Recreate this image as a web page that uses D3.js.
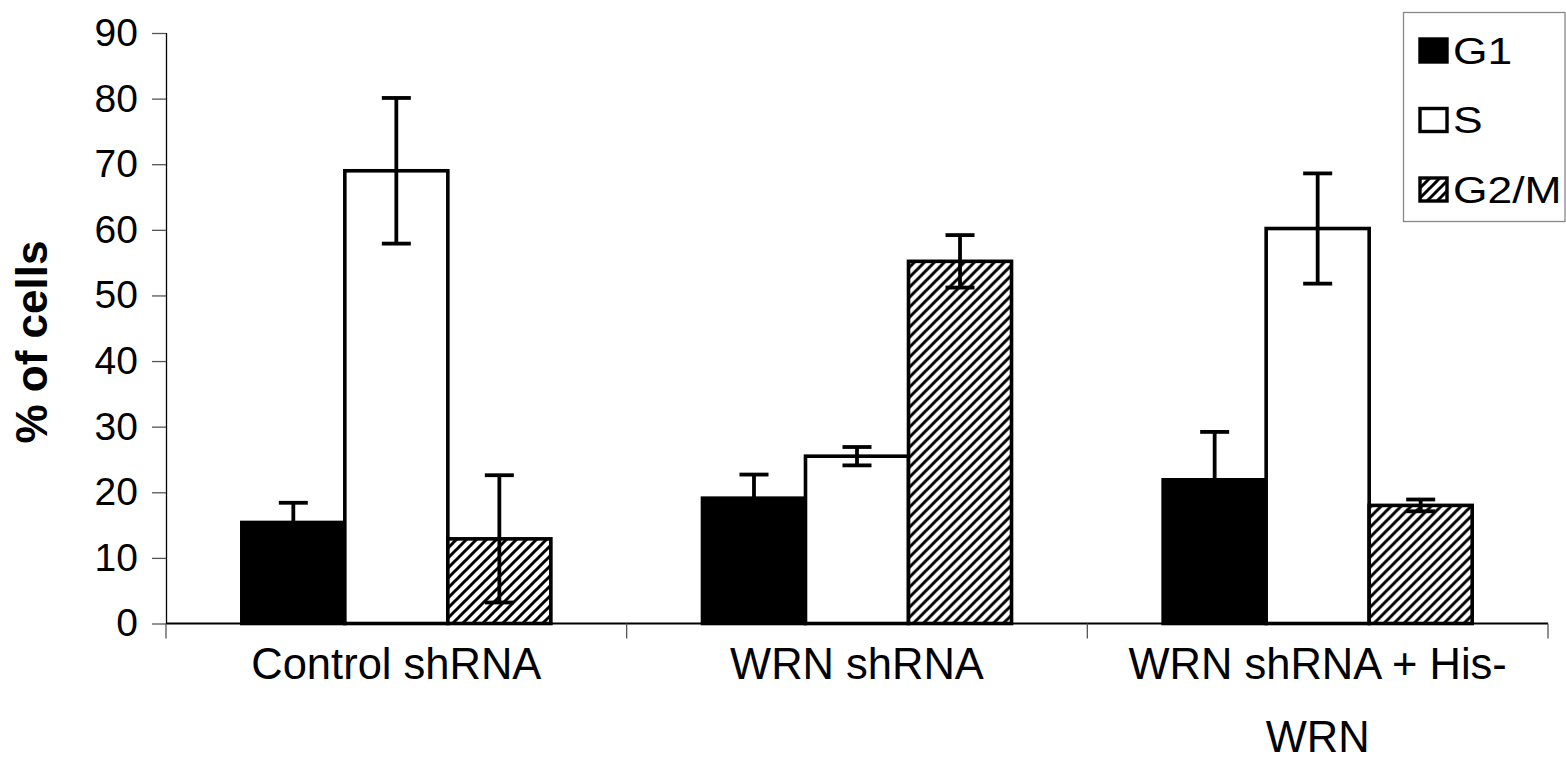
<!DOCTYPE html>
<html>
<head>
<meta charset="utf-8">
<script src="https://cdn.jsdelivr.net/npm/d3@7"></script>
<style>
  html, body { margin: 0; padding: 0; background: #fff; }
  svg { display: block; }
  text { font-family: "Liberation Sans", Arial, sans-serif; fill: #000; }
</style>
</head>
<body>
<svg id="chart" width="1566" height="761"></svg>
<script>
// Cell-cycle distribution (% of cells) per condition
const categories = ["Control shRNA", "WRN shRNA", "WRN shRNA + His-WRN"];
const categoryLines = [["Control shRNA"], ["WRN shRNA"], ["WRN shRNA + His-", "WRN"]];
const phases = ["G1", "S", "G2/M"];

const g1Values  = [15.4, 19.1, 21.9];
const sValues   = [69.0, 25.5, 60.2];
const g2mValues = [12.9, 55.2, 18.0];

const g1Errors  = [3.0, 3.6, 7.3];
const sErrors   = [11.1, 1.4, 8.4];
const g2mErrors = [9.7, 4.0, 0.9];

const yTicks = [0, 10, 20, 30, 40, 50, 60, 70, 80, 90];

// ---- layout
const plot = { left: 166, right: 1548, top: 33, bottom: 623.5 };

const rows = categories.map((c, i) => ({
  category: c,
  lines: categoryLines[i],
  bars: [
    { phase: "G1",   value: g1Values[i],  err: g1Errors[i] },
    { phase: "S",    value: sValues[i],   err: sErrors[i] },
    { phase: "G2/M", value: g2mValues[i], err: g2mErrors[i] }
  ]
}));

const svg = d3.select("#chart");

const defs = svg.append("defs");
const hatch = defs.append("pattern")
  .attr("id", "hatch")
  .attr("patternUnits", "userSpaceOnUse")
  .attr("width", 10).attr("height", 10);
hatch.append("rect").attr("width", 10).attr("height", 10).attr("fill", "#fff");
hatch.append("path")
  .attr("d", "M-3,3 L3,-3 M0,10 L10,0 M7,13 L13,7")
  .attr("stroke", "#000").attr("stroke-width", 3);

const fills = { "G1": "#000", "S": "#fff", "G2/M": "url(#hatch)" };

const y = d3.scaleLinear().domain([0, 90]).range([plot.bottom, plot.top]);
const x0 = d3.scaleBand().domain(categories).range([plot.left, plot.right]).padding(0);
const x1 = d3.scaleBand().domain(phases).range([0, x0.bandwidth()])
  .paddingInner(0).paddingOuter(0.736);

// ---- y axis
const yAxis = d3.axisLeft(y).tickValues(yTicks).tickSize(14).tickPadding(14);
const gy = svg.append("g").attr("transform", `translate(${plot.left},0)`).call(yAxis);
gy.select(".domain").attr("stroke", "#000").attr("stroke-width", 1.3).attr("d", `M0.5,${plot.top}V${plot.bottom}`);
gy.selectAll(".tick line").attr("stroke", "#555").attr("stroke-width", 1.3);
gy.selectAll(".tick text")
  .attr("font-size", 39)
  .attr("font-family", "'Liberation Sans', Arial, sans-serif")
  .attr("fill", "#000");

// ---- y title
svg.append("text")
  .attr("transform", `translate(47,342) rotate(-90)`)
  .attr("text-anchor", "middle")
  .attr("font-size", 44)
  .attr("font-weight", "bold")
  .text("% of cells");

// ---- x axis
const boundaries = categories.map(c => x0(c)).concat([plot.right]);
svg.append("line")
  .attr("x1", plot.left).attr("x2", plot.right)
  .attr("y1", plot.bottom).attr("y2", plot.bottom)
  .attr("stroke", "#000").attr("stroke-width", 2);
svg.append("g").selectAll("line").data(boundaries).join("line")
  .attr("x1", d => d).attr("x2", d => d)
  .attr("y1", plot.bottom).attr("y2", plot.bottom + 15)
  .attr("stroke", "#555").attr("stroke-width", 1.3);

// ---- category labels
const labels = svg.append("g").selectAll("text").data(rows).join("text")
  .attr("text-anchor", "middle")
  .attr("font-size", 43.5)
  .attr("x", d => x0(d.category) + x0.bandwidth() / 2)
  .attr("y", 679);
labels.selectAll("tspan").data(d => d.lines).join("tspan")
  .attr("x", function () { return d3.select(this.parentNode).attr("x"); })
  .attr("dy", (d, i) => i === 0 ? 0 : 73)
  .text(d => d);

// ---- bars
const groups = svg.append("g").selectAll("g").data(rows).join("g")
  .attr("transform", d => `translate(${x0(d.category)},0)`);

groups.selectAll("rect").data(d => d.bars).join("rect")
  .attr("x", d => x1(d.phase))
  .attr("y", d => y(d.value))
  .attr("width", x1.bandwidth())
  .attr("height", d => y(0) - y(d.value))
  .attr("fill", d => fills[d.phase])
  .attr("stroke", "#000")
  .attr("stroke-width", 3.6);

// ---- error bars
const capHalf = 14.5;
const eb = groups.selectAll("g.err").data(d => d.bars).join("g").attr("class", "err")
  .attr("stroke", "#000").attr("stroke-width", 3.8);
eb.append("line")
  .attr("x1", d => x1(d.phase) + x1.bandwidth() / 2)
  .attr("x2", d => x1(d.phase) + x1.bandwidth() / 2)
  .attr("y1", d => y(d.value - d.err))
  .attr("y2", d => y(d.value + d.err));
eb.append("line")
  .attr("x1", d => x1(d.phase) + x1.bandwidth() / 2 - capHalf)
  .attr("x2", d => x1(d.phase) + x1.bandwidth() / 2 + capHalf)
  .attr("y1", d => y(d.value + d.err))
  .attr("y2", d => y(d.value + d.err));
eb.append("line")
  .attr("x1", d => x1(d.phase) + x1.bandwidth() / 2 - capHalf)
  .attr("x2", d => x1(d.phase) + x1.bandwidth() / 2 + capHalf)
  .attr("y1", d => y(d.value - d.err))
  .attr("y2", d => y(d.value - d.err));

// ---- legend
const legend = svg.append("g");
legend.append("rect")
  .attr("x", 1403.5).attr("y", 12.5)
  .attr("width", 161.5).attr("height", 209)
  .attr("fill", "#fff").attr("stroke", "#888").attr("stroke-width", 1.3);
const items = legend.selectAll("g").data(phases).join("g")
  .attr("transform", (d, i) => `translate(1420,${39 + i * 69.5})`);
items.append("rect")
  .attr("width", 27).attr("height", 23)
  .attr("fill", d => fills[d])
  .attr("stroke", "#000").attr("stroke-width", 3.4);
items.append("text")
  .attr("transform", "translate(33,24.5) scale(1.2,1)")
  .attr("font-size", 37)
  .text(d => d);
</script>
</body>
</html>
